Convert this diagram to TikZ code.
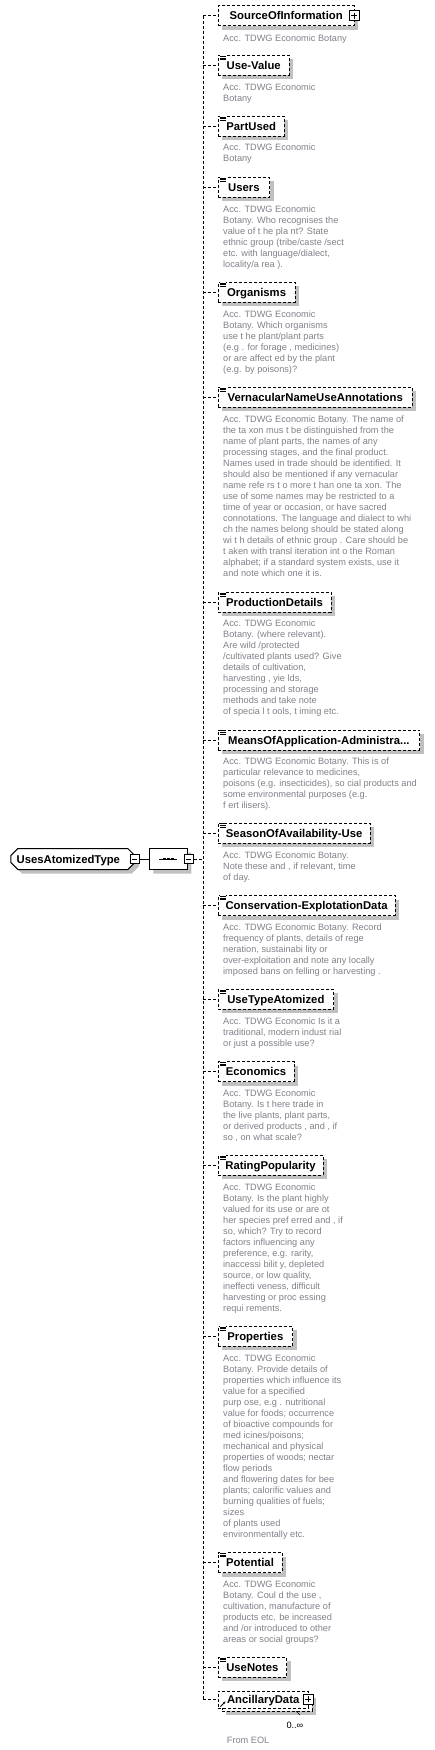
\documentclass[tikz,border=0pt]{standalone}
\usepackage{fontspec}
\setmainfont{Liberation Sans}
\usepackage{xcolor}
\usetikzlibrary{shapes.misc,shadows,arrows.meta}

\definecolor{shadowgray}{RGB}{192,192,192}
\definecolor{descgray}{RGB}{128,128,138}

\tikzset{
  elembox/.style={draw, dash pattern=on 3pt off 2pt, fill=white, anchor=west,
    minimum height=20pt, inner sep=0pt, text height=8.1pt, text depth=0pt,
    font=\fontsize{11.3}{13}\selectfont\bfseries},
  elem/.style={elembox, drop shadow={shadow xshift=4pt, shadow yshift=-4pt, fill=shadowgray, opacity=1}},
  desc/.style={anchor=north west, yshift=7.7pt, execute at begin node=\strut, align=left,
    inner sep=0pt, text=descgray, font=\fontsize{9.2}{11}\selectfont},
  conn/.style={dash pattern=on 3pt off 2pt},
  btnbox/.style={draw, fill=white, minimum size=10pt, inner sep=0pt, line width=1pt},
  plusbtn/.style={btnbox, path picture={\draw[line width=1pt] (path picture bounding box.center) +(-3,0) -- +(3,0) +(0,-3) -- +(0,3);}},
  minusbtn/.style={btnbox, path picture={\draw[line width=1pt] (path picture bounding box.center) +(-2.5,0) -- +(2.5,0);}},
}

\newcommand{\docicon}[1]{%
  \begin{scope}[shift={(#1.north west)}]
    \fill[white] (1.5,-0.5) rectangle (8,5);
    \draw[line width=0.9pt] (2,1) -- (7.5,1) (2,2.8) -- (7.5,2.8) (2,4.6) -- (7.5,4.6);
  \end{scope}}

\begin{document}
\begin{tikzpicture}[x=1pt, y=-1pt]
        \useasboundingbox (0,0) rectangle (434,1750);

        % root type and sequence
        \node[chamfered rectangle, chamfered rectangle xsep=3.5pt, draw, fill=white, line width=1pt,
              minimum width=124pt, minimum height=21pt, inner sep=0pt, text height=8.1pt, text depth=0pt,
              font=\fontsize{11.3}{13}\selectfont\bfseries,
              drop shadow={shadow xshift=4pt, shadow yshift=-4pt, fill=shadowgray, opacity=1}]
              (uat) at (72.8,859) {UsesAtomizedType\hspace*{9pt}};
        \node[minusbtn, minimum size=9pt] (uat-minus) at (134.5,859) {};
        \node[chamfered rectangle, chamfered rectangle xsep=6pt, draw, fill=white, line width=1pt,
              minimum width=38pt, minimum height=21pt, inner sep=0pt,
              drop shadow={shadow xshift=4pt, shadow yshift=-4pt, fill=shadowgray, opacity=1}]
              (seq) at (168.3,859) {};
        \draw[line width=1pt] ([xshift=-9pt]seq.center) -- ([xshift=8.5pt]seq.center);
        \foreach \dx in {-4,0,4}
            \fill ([xshift=\dx pt]seq.center) +(-1.4,-1.4) rectangle +(1.4,1.4);
        \node[minusbtn, minimum size=9pt] (seq-minus) at (188.5,859) {};
        \draw[line width=1pt] (uat-minus.east) -- (seq.west);
        \coordinate (spine) at (203,859);

        % child elements
        \node[elem, minimum width=136pt] (source) at (218,15.7) {SourceOfInformation};
        \node[plusbtn] (source-plus) at (source.east) {};
        \node[desc] (source-doc) at (223,41.3) {Acc. TDWG Economic Botany};

        \node[elem, minimum width=71pt] (usevalue) at (218,65.5) {Use-Value};
        \node[desc] (usevalue-doc) at (223,91.3) {Acc. TDWG Economic\\Botany};

        \node[elem, minimum width=66pt] (partused) at (218,126.3) {PartUsed};
        \node[desc] (partused-doc) at (223,151.6) {Acc. TDWG Economic\\Botany};

        \node[elem, minimum width=51.3pt] (users) at (218,187.2) {Users};
        \node[desc] (users-doc) at (223,213.3) {Acc. TDWG Economic\\Botany. Who recognises the\\value of t he pla nt? State\\ethnic group (tribe/caste /sect\\etc. with language/dialect,\\locality/a rea ).};

        \node[elem, minimum width=76.7pt] (organisms) at (218,292.3) {Organisms};
        \node[desc] (organisms-doc) at (223,318.3) {Acc. TDWG Economic\\Botany. Which organisms\\use t he plant/plant parts\\(e.g . for forage , medicines)\\or are affect ed by the plant\\(e.g. by poisons)?};

        \node[elem, minimum width=194pt] (vernacular) at (218,397.3) {VernacularNameUseAnnotations};
        \node[desc] (vernacular-doc) at (223,423.3) {Acc. TDWG Economic Botany. The name of\\the ta xon mus t be distinguished from the\\name of plant parts, the names of any\\processing stages, and the final product.\\Names used in trade should be identified. It\\should also be mentioned if any vernacular\\name refe rs t o more t han one ta xon. The\\use of some names may be restricted to a\\time of year or occasion, or have sacred\\connotations. The language and dialect to whi\\ch the names belong should be stated along\\wi t h details of ethnic group . Care should be\\t aken with transl iteration int o the Roman\\alphabet; if a standard system exists, use it\\and note which one it is.};

        \node[elem, minimum width=112.7pt] (production) at (218,602.3) {ProductionDetails};
        \node[desc] (production-doc) at (223,627.3) {Acc. TDWG Economic\\Botany. (where relevant).\\Are wild /protected\\/cultivated plants used? Give\\details of cultivation,\\harvesting , yie lds,\\processing and storage\\methods and take note\\of specia l t ools, t iming etc.};

        \node[elem, minimum width=201.3pt] (means) at (218,740) {MeansOfApplication-Administra...};
        \node[desc] (means-doc) at (223,765.3) {Acc. TDWG Economic Botany. This is of\\particular relevance to medicines,\\poisons (e.g. insecticides), so cial products and\\some environmental purposes (e.g.\\f ert ilisers).};

        \node[elem, minimum width=152pt] (season) at (218,833) {SeasonOfAvailability-Use};
        \node[desc] (season-doc) at (223,859.3) {Acc. TDWG Economic Botany.\\Note these and , if relevant, time\\of day.};

        \node[elem, minimum width=176.7pt] (conservation) at (218,905.5) {Conservation-ExplotationData};
        \node[desc] (conservation-doc) at (223,930.9) {Acc. TDWG Economic Botany. Record\\frequency of plants, details of rege\\neration, sustainabi lity or\\over-exploitation and note any locally\\imposed bans on felling or harvesting .};

        \node[elem, minimum width=115.3pt] (usetype) at (218,999.3) {UseTypeAtomized};
        \node[desc] (usetype-doc) at (223,1025.3) {Acc. TDWG Economic Is it a\\traditional, modern indust rial\\or just a possible use?};

        \node[elem, minimum width=75.7pt] (economics) at (218,1071.5) {Economics};
        \node[desc] (economics-doc) at (223,1097.3) {Acc. TDWG Economic\\Botany. Is t here trade in\\the live plants, plant parts,\\or derived products , and , if\\so , on what scale?};

        \node[elem, minimum width=104.7pt] (rating) at (218,1165.2) {RatingPopularity};
        \node[desc] (rating-doc) at (223,1191.3) {Acc. TDWG Economic\\Botany. Is the plant highly\\valued for its use or are ot\\her species pref erred and , if\\so, which? Try to record\\factors influencing any\\preference, e.g. rarity,\\inaccessi bilit y, depleted\\source, or low quality,\\ineffecti veness, difficult\\harvesting or proc essing\\requi rements.};

        \node[elem, minimum width=74.3pt] (properties) at (218,1336.2) {Properties};
        \node[desc] (properties-doc) at (223,1362.3) {Acc. TDWG Economic\\Botany. Provide details of\\properties which influence its\\value for a specified\\purp ose, e.g . nutritional\\value for foods; occurrence\\of bioactive compounds for\\med icines/poisons;\\mechanical and physical\\properties of woods; nectar\\flow periods\\and flowering dates for bee\\plants; calorific values and\\burning qualities of fuels;\\sizes\\of plants used\\environmentally etc.};

        \node[elem, minimum width=63.7pt] (potential) at (218,1562.5) {Potential};
        \node[desc] (potential-doc) at (223,1588.3) {Acc. TDWG Economic\\Botany. Coul d the use ,\\cultivation, manufacture of\\products etc. be increased\\and /or introduced to other\\areas or social groups?};

        \node[elem, minimum width=68.3pt] (usenotes) at (218,1667.2) {UseNotes};

        \node[elem, minimum width=90pt, minimum height=17pt] (ancillary-back) at (221.7,1702.2) {};
        \node[elembox, minimum width=90pt, minimum height=17pt] (ancillary) at (218,1699.2) {AncillaryData};
        \node[plusbtn] (ancillary-plus) at (ancillary.east) {};
        \draw[-{Stealth[length=2.5pt,width=2.5pt]}, line width=0.8pt] (220.5,1706.5) -- (225.5,1701.5);
        \draw (296,1711) -- (300,1715);
        \node[anchor=base east, inner sep=0pt, font=\fontsize{9.2}{11}\selectfont] (ancillary-mult) at (303.5,1728) {0..∞};
        \node[desc] (ancillary-doc) at (226.7,1743.3) {From EOL};

        \foreach \n in {usevalue,partused,users,organisms,vernacular,production,means,season,
                        conservation,usetype,economics,rating,properties,potential,usenotes}
            \docicon{\n};

        % connectors
        \draw[conn] (seq-minus.east) -- (spine);
        \draw[conn] (source.west -| spine) -- (ancillary.west -| spine);
        \foreach \n in {source,usevalue,partused,users,organisms,vernacular,production,means,season,
                        conservation,usetype,economics,rating,properties,potential,usenotes,ancillary}
            \draw[conn] (\n.west -| spine) -- (\n.west);
    \end{tikzpicture}
\end{document}
